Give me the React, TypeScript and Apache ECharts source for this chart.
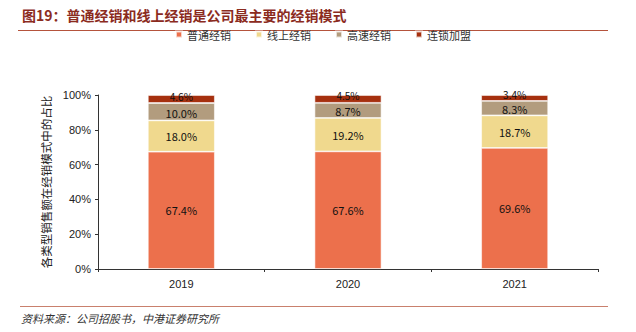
import React, { useEffect, useRef } from "react";
import * as echarts from "echarts";

const categories = ["2019", "2020", "2021"];
const seriesNames = ["普通经销", "线上经销", "高速经销", "连锁加盟"];
const regular = [67.4, 67.6, 69.6];
const online = [18.0, 19.2, 18.7];
const highway = [10.0, 8.7, 8.3];
const chain = [4.6, 4.5, 3.4];
const yTicks = ["0%", "20%", "40%", "60%", "80%", "100%"];
const colors = ["#EC704C", "#F0D98E", "#B29C7E", "#A6300F"];

const titleText = "图19：普通经销和线上经销是公司最主要的经销模式";
const sourceText = "资料来源：公司招股书，中港证券研究所";
const yName = "各类型销售额在经销模式中的占比";

export default function App() {
  const ref = useRef<HTMLDivElement>(null);
  useEffect(() => {
    if (!ref.current) return;
    const chart = echarts.init(ref.current, null, { renderer: "svg" });
    const data = [regular, online, highway, chain];
    const font = "'Noto Sans CJK SC', 'Liberation Sans', sans-serif";
    const labelOffsets = [[0, 0], [0, 0], [0, 1], [0, -3]];
    chart.setOption({
      animation: false,
      backgroundColor: "#ffffff",
      textStyle: { fontFamily: font },
      grid: { left: 98, right: 38, top: 95, bottom: 63 },
      legend: {
        data: seriesNames,
        top: 24,
        left: 170,
        itemWidth: 6,
        itemHeight: 6,
        itemGap: 24,
        icon: "rect",
        textStyle: { fontSize: 11, color: "#333", fontFamily: font },
      },
      xAxis: {
        type: "category",
        data: categories,
        axisLine: { lineStyle: { color: "#333", width: 1 } },
        axisTick: { show: true, length: 3, alignWithLabel: false, lineStyle: { color: "#333" } },
        axisLabel: { fontSize: 11, color: "#222", margin: 9, fontFamily: "'Liberation Sans', sans-serif" },
      },
      yAxis: {
        type: "value",
        min: 0,
        max: 100,
        interval: 20,
        name: yName,
        nameLocation: "middle",
        nameGap: 40,
        nameTextStyle: { fontSize: 11.5, color: "#222", fontFamily: font },
        axisLine: { show: true, lineStyle: { color: "#333", width: 1 } },
        axisTick: { show: true, length: 3, lineStyle: { color: "#333" } },
        splitLine: { show: false },
        axisLabel: {
          fontSize: 11,
          color: "#222",
          margin: 7,
          fontFamily: "'Liberation Sans', sans-serif",
          formatter: (v: number) => yTicks[Math.round(v / 20)],
        },
      },
      series: seriesNames.map((name, i) => ({
        name,
        type: "bar",
        stack: "total",
        barWidth: 67,
        data: data[i],
        itemStyle: { color: colors[i], borderColor: "rgba(255,255,255,0.7)", borderWidth: 0.8 },
        label: {
          show: true,
          position: "inside",
          color: "#111",
          fontSize: i === 3 ? 10 : 11,
          lineHeight: i === 3 ? 9 : 10,
          offset: labelOffsets[i],
          fontFamily: font,
          formatter: (p: any) => Number(p.value).toFixed(1) + "%",
        },
      })),
      graphic: [
        {
          type: "text",
          left: 22,
          top: 8,
          style: { text: titleText, fontSize: 14, fontWeight: "bold", fill: "#8B2B1E", fontFamily: font },
        },
        {
          type: "line",
          shape: { x1: 18, y1: 30.5, x2: 608, y2: 30.5 },
          style: { stroke: "#B5533C", lineWidth: 1 },
        },
        {
          type: "line",
          shape: { x1: 20, y1: 306.5, x2: 608, y2: 306.5 },
          style: { stroke: "#C9806D", lineWidth: 1 },
        },
        {
          type: "text",
          left: 21,
          top: 312,
          style: { text: sourceText, fontSize: 11, fontStyle: "italic", fill: "#333", fontFamily: font },
        },
      ],
    });
    return () => chart.dispose();
  }, []);
  return <div ref={ref} style={{ width: 636, height: 332, position: "absolute", left: 0, top: 0 }} />;
}
